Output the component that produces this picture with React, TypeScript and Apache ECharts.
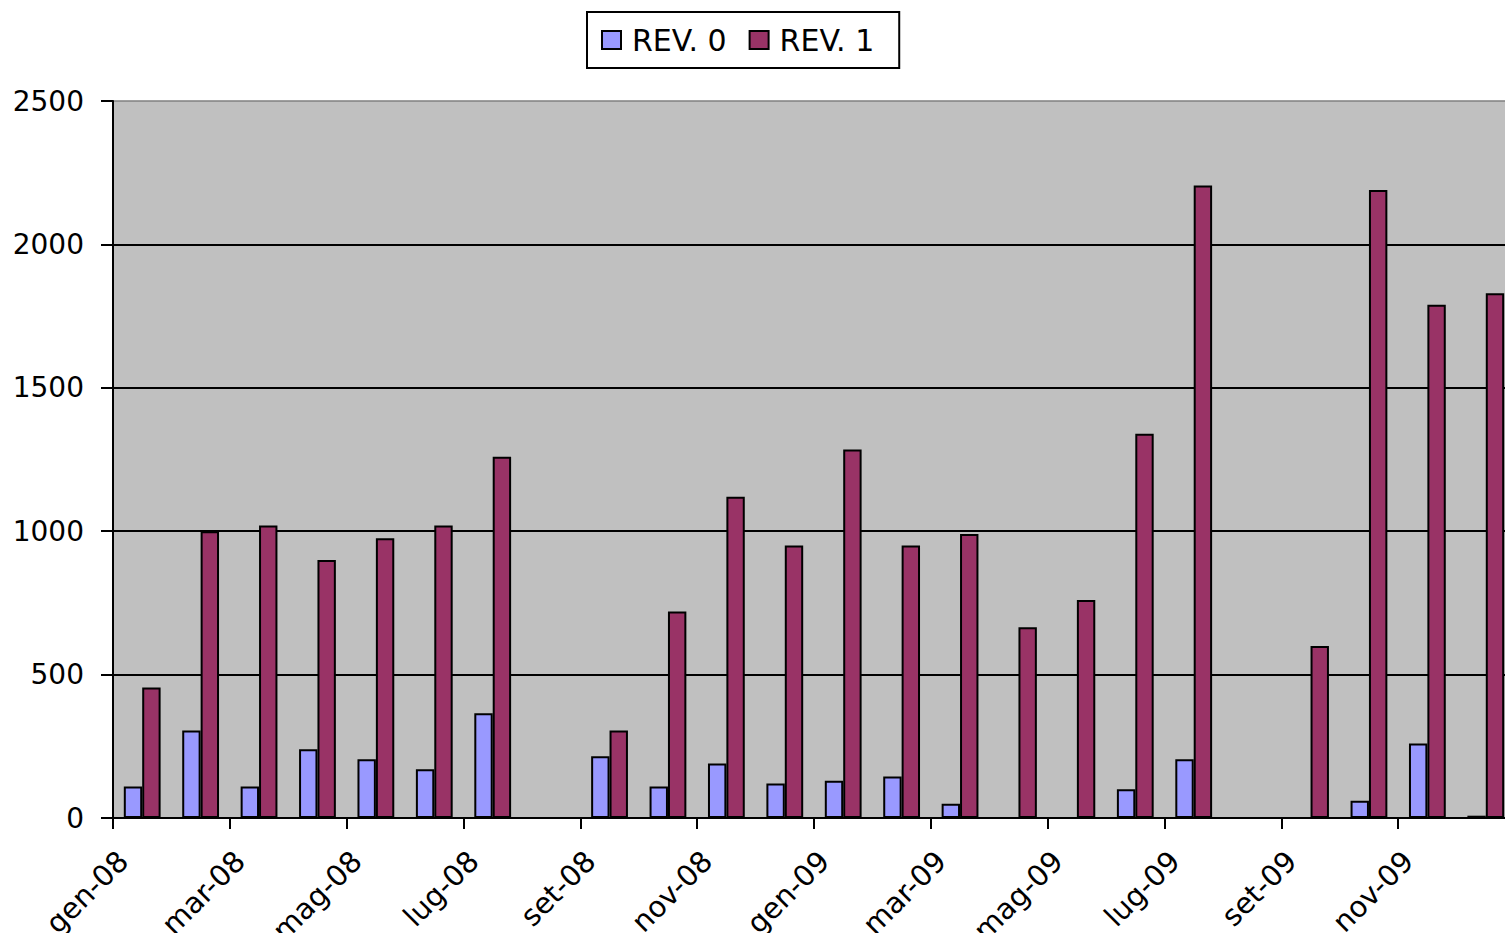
import React, { useEffect, useRef } from "react";
import * as echarts from "echarts";

const months = [
  "gen-08", "feb-08", "mar-08", "apr-08", "mag-08", "giu-08", "lug-08", "ago-08",
  "set-08", "ott-08", "nov-08", "dic-08", "gen-09", "feb-09", "mar-09", "apr-09",
  "mag-09", "giu-09", "lug-09", "ago-09", "set-09", "ott-09", "nov-09", "dic-09",
];

const rev0: (number | null)[] = [
  110, 305, 110, 240, 205, 170, 365, null,
  215, 110, 190, 120, 130, 145, 50, null,
  null, 100, 205, null, null, 60, 260, 8,
];

const rev1: (number | null)[] = [
  455, 1000, 1020, 900, 975, 1020, 1260, null,
  305, 720, 1120, 950, 1285, 950, 990, 665,
  760, 1340, 2205, null, 600, 2190, 1790, 1830,
];

const seriesNames = ["REV. 0", "REV. 1"];
const colors = ["#9999FF", "#993366"];
const yMin = 0;
const yMax = 2500;
const yStep = 500;

const FONT = '"DejaVu Sans", "Liberation Sans", sans-serif';

export default function App() {
  const ref = useRef<HTMLDivElement>(null);

  useEffect(() => {
    if (!ref.current) return;
    const chart = echarts.init(ref.current, undefined, { renderer: "svg" });
    const option: any = {
      animation: false,
      backgroundColor: "#ffffff",
      textStyle: { fontFamily: FONT, color: "#000" },
      legend: {
        left: 587,
        top: 12,
        padding: [13, 25, 13, 14],
        itemWidth: 19,
        itemHeight: 18,
        itemGap: 22,
        icon: "rect",
        borderColor: "#000",
        borderWidth: 2,
        backgroundColor: "#fff",
        textStyle: {
          fontFamily: FONT,
          fontSize: 30,
          color: "#000",
          lineHeight: 30,
          padding: [0, 0, 0, 6],
        },
        data: seriesNames,
      },
      grid: {
        left: 113,
        top: 101,
        right: -10,
        bottom: 115,
        show: true,
        backgroundColor: "#C0C0C0",
        borderColor: "#808080",
        borderWidth: 1.5,
        containLabel: false,
        outerBoundsMode: "none",
      },
      xAxis: {
        type: "category",
        data: months,
        boundaryGap: true,
        axisLine: { show: true, lineStyle: { color: "#000", width: 2 } },
        axisTick: { show: true, interval: 1, length: 11, lineStyle: { color: "#000", width: 2 } },
        axisLabel: {
          interval: 1,
          rotate: 45,
          margin: 19,
          padding: [0, 27, 0, 0],
          fontFamily: FONT,
          fontSize: 29,
          color: "#000",
        },
        splitLine: { show: false },
      },
      yAxis: {
        type: "value",
        min: yMin,
        max: yMax,
        interval: yStep,
        axisLine: { show: true, lineStyle: { color: "#000", width: 2 } },
        axisTick: { show: true, length: 12, lineStyle: { color: "#000", width: 2 } },
        axisLabel: {
          margin: 29,
          fontFamily: FONT,
          fontSize: 28,
          color: "#000",
          formatter: (v: number) => String(v),
        },
        splitLine: {
          show: true,
          showMinLine: false,
          showMaxLine: false,
          lineStyle: { color: "#000", width: 2 },
        },
      },
      series: [
        {
          name: seriesNames[0],
          type: "bar",
          data: rev0,
          barGap: "0%",
          barCategoryGap: "37%",
          itemStyle: { color: colors[0], borderColor: "#000", borderWidth: 2 },
        },
        {
          name: seriesNames[1],
          type: "bar",
          data: rev1,
          barGap: "0%",
          barCategoryGap: "37%",
          itemStyle: { color: colors[1], borderColor: "#000", borderWidth: 2 },
        },
      ],
    };
    chart.setOption(option);
    return () => chart.dispose();
  }, []);

  return (
    <div
      ref={ref}
      style={{ position: "fixed", left: 0, top: 0, width: 1505, height: 933, overflow: "hidden" }}
    />
  );
}
